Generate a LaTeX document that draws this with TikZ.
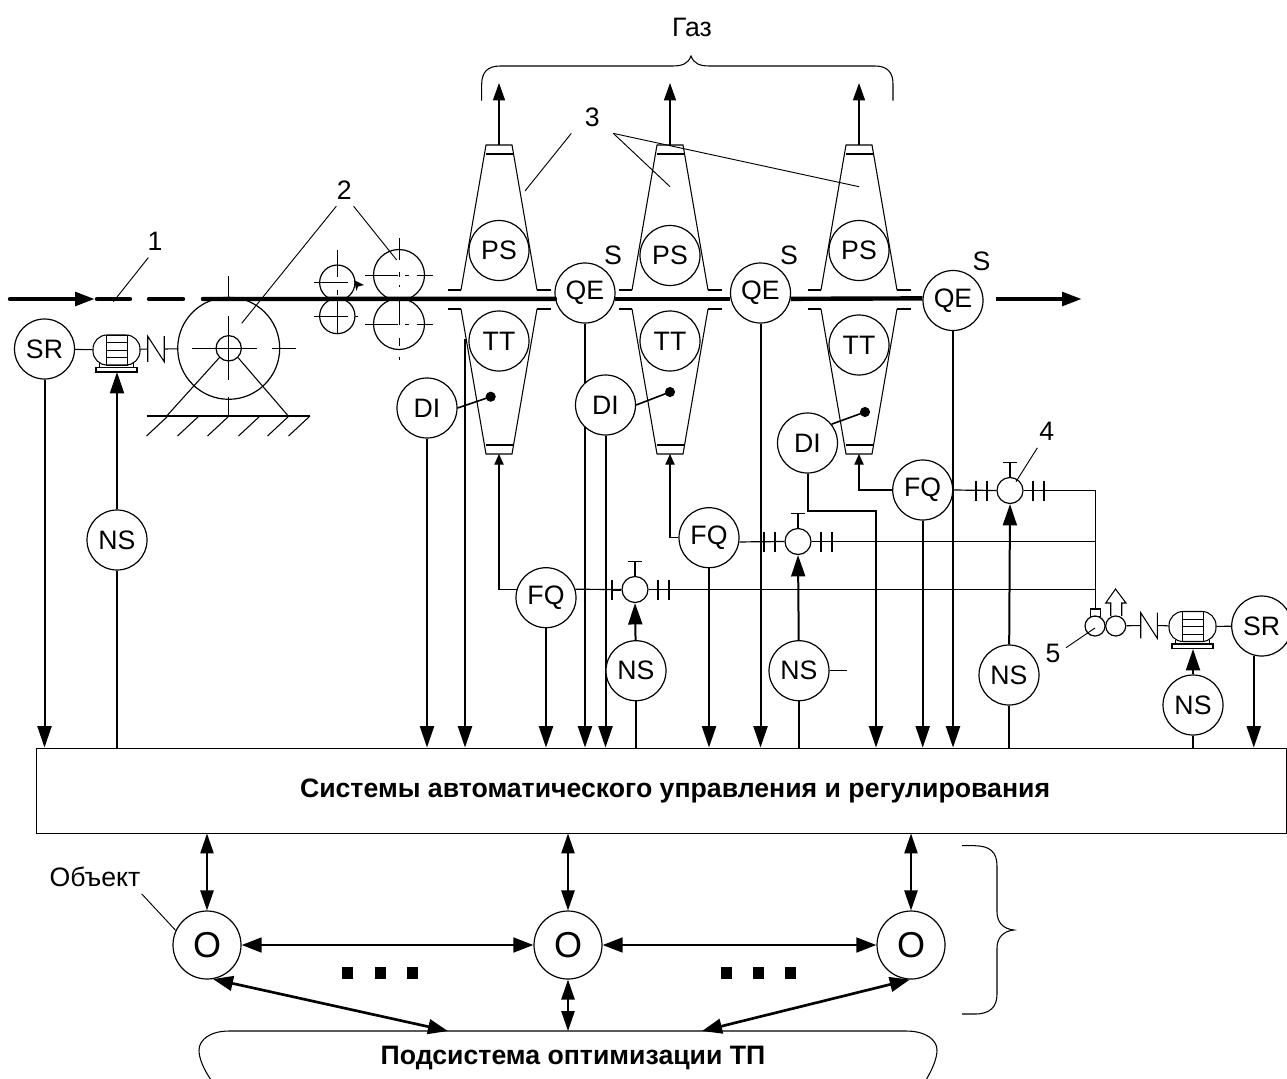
\documentclass[tikz,border=0pt]{standalone}
\usepackage{fontspec}
\setmainfont{Liberation Sans}
\usepackage{tikz}
\usetikzlibrary{positioning, calc, arrows.meta}

\tikzset{
    dev/.style={circle, draw, line width=0.9pt, minimum size=45pt, inner sep=0pt, font=\fontsize{20}{22}\selectfont},
    devw/.style={dev, fill=white},
    objc/.style={dev, fill=white, minimum size=51pt, font=\fontsize{27}{29}\selectfont},
    valvec/.style={circle, draw, fill=white, line width=0.9pt, minimum size=19.5pt, inner sep=0pt},
    lbl/.style={inner xsep=10pt, inner ysep=5pt, font=\fontsize{20}{22}\selectfont},
    thinl/.style={line width=0.8pt},
    cl/.style={line width=0.6pt},
    lead/.style={line width=0.7pt},
    sig/.style={line width=1.5pt, -{Triangle[length=16pt,width=10.5pt]}},
    sigplain/.style={line width=1.5pt},
    pipe/.style={line width=0.9pt},
    pipetip/.style={line width=0.9pt, -{Triangle[length=8pt,width=7pt]}},
    gas/.style={line width=1.1pt, -{Triangle[length=13pt,width=9pt]}},
    tape/.style={line width=3.3pt},
    bi/.style={line width=2pt, {Triangle[length=15pt,width=11pt]}-{Triangle[length=15pt,width=11pt]}},
    bithin/.style={line width=1.2pt, {Triangle[length=15pt,width=10pt]}-{Triangle[length=15pt,width=10pt]}},
    sq/.style={fill=black},
}

% motor with its base, centre of the body at #2,#3
\newcommand{\motorsym}[3]{
    \node[draw, line width=0.8pt, rounded corners=10.5pt, minimum width=35.25pt, minimum height=22.5pt, inner sep=0pt] (#1) at (#2,#3) {};
    \draw[cl] ($(#2,#3)+(-10.5,-15)$) rectangle ($(#2,#3)+(10.5,15)$);
    \foreach \dy in {-7.5,0,7.5} \draw[cl] ($(#2,#3)+(-10.5,\dy)$) -- ($(#2,#3)+(10.5,\dy)$);
    \draw[thinl] ($(#2,#3)+(-20.5,17.5)$) rectangle ($(#2,#3)+(20.5,22)$);
    \draw[thinl] ($(#2,#3)+(-17,13)$) -- ($(#2,#3)+(-17,17.5)$);
    \draw[thinl] ($(#2,#3)+(17,13)$) -- ($(#2,#3)+(17,17.5)$);
}
% coupling
\newcommand{\nsym}[3]{
    \node[minimum width=12pt, minimum height=18.75pt, inner sep=0pt] (#1) at (#2,#3) {};
    \draw[thinl] (#1.south west) -- (#1.north west) -- (#1.south east) -- (#1.north east);
}
% valve with stem and flange marks, #4 = left marks
\newcommand{\valvesym}[4]{
    \node[valvec] (#1) at (#2,#3) {};
    \draw[thinl] (#1.north) -- ++(0,-14) ++(-7,0) -- ++(14,0);
    \foreach \dx in {#4} \draw[thinl] ($(#1)+(\dx,-10)$) -- ($(#1)+(\dx,10)$);
    \foreach \dx in {23,34} \draw[thinl] ($(#1)+(\dx,-10)$) -- ($(#1)+(\dx,10)$);
}

\begin{document}
\begin{tikzpicture}[x=0.75pt, y=-0.75pt]
    \useasboundingbox (0,0) rectangle (1287,1078);

    % control system and optimisation block
    \node[draw, line width=0.7pt, minimum width=937.5pt, minimum height=63.75pt, inner sep=0pt] (bus) at (661.5,790.5) {};
    \node[font=\fontsize{20}{22}\selectfont\bfseries] (bustext) at (675,791) {Системы автоматического управления и регулирования};
    \node[font=\fontsize{20}{22}\selectfont\bfseries] (opt) at (573,1058) {Подсистема оптимизации ТП};
    \draw[thinl] (211,1080) .. controls (203,1068) and (199,1058) .. (199,1050) .. controls (199,1040) and (210,1031) .. (229,1031)
        -- (906,1031) .. controls (926,1031) and (937,1040) .. (937,1050) .. controls (937,1058) and (933,1068) .. (926,1080);
    \coordinate (optl) at (448,1031);
    \coordinate (optm) at (568,1031);
    \coordinate (optr) at (702,1031);

    % funnels of the chambers
    \foreach \fx/\fn in {499/1, 670/2, 859/3} {
        \draw[thinl] (\fx-38,290) -- (\fx-51.5,290);
        \draw[thinl] (\fx+38,290) -- (\fx+51.5,290);
        \draw[thinl] (\fx-38,290) -- (\fx-13,145) -- (\fx+13,145) -- (\fx+38,290);
        \draw[thinl] (\fx-13.5,154) -- (\fx+13.5,154);
        \draw[thinl] (\fx-38,309) -- (\fx-51.5,309);
        \draw[thinl] (\fx+38,309) -- (\fx+51.5,309);
        \draw[thinl] (\fx-38,309) -- (\fx-13,454) -- (\fx+13,454) -- (\fx+38,309);
        \draw[thinl] (\fx-13.5,445) -- (\fx+13.5,445);
        \coordinate (ft\fn) at (\fx,145);
        \coordinate (fb\fn) at (\fx,454);
        \coordinate (gas\fn) at (\fx,83);
        \draw[gas] (ft\fn) -- (gas\fn);
    }

    % sensors on the chambers
    \node[dev] (ps1) at (499,250.5) {PS};
    \node[dev] (ps2) at (670,255.5) {PS};
    \node[dev] (ps3) at (859,250.5) {PS};
    \node[dev] (tt1) at (499,341) {TT};
    \node[dev] (tt2) at (670,341) {TT};
    \node[dev] (tt3) at (859,345) {TT};
    \node[devw] (qe1) at (585,293) {QE};
    \node[devw] (qe2) at (760.5,293) {QE};
    \node[devw] (qe3) at (953,300.5) {QE};
    \node[lbl] (s1) at (613,255) {S};
    \node[lbl] (s2) at (789,255) {S};
    \node[lbl] (s3) at (981.5,261.5) {S};

    % tape
    \coordinate (tapea) at (10,299);
    \coordinate (tapeb) at (95,299);
    \coordinate (tapec) at (1063,299);
    \draw[tape, line cap=round, -{Triangle[length=15pt,width=10pt]}] (tapea) -- (tapeb);
    \draw[tape, line cap=round] (97,299) -- (130,299);
    \draw[tape, line cap=round] (149,299) -- (183,299);
    \draw[tape, line cap=round] (203,299) -- (qe1.191.5);
    \draw[tape] (qe1.-11.5) -- (qe2.191.5);
    \draw[tape] (qe2.-11.5) -- (qe3.176);
    \draw[tape, -{Triangle[length=15pt,width=10pt]}] (996,299) -- (1082,299);

    % drive on the left
    \node[dev] (sr1) at (44.5,349) {SR};
    \motorsym{mot1}{116.5}{350}
    \nsym{n1}{156}{349}
    \node[circle, draw, line width=0.9pt, minimum size=76.5pt, inner sep=0pt] (wheel) at (228.7,348.3) {};
    \node[circle, draw, line width=0.9pt, minimum size=19pt, inner sep=0pt] (hub) at (228.7,348.3) {};
    \draw[thinl] (sr1) -- (mot1);
    \draw[thinl] (mot1) -- (n1.west);
    \draw[thinl] (n1.east) -- (wheel);
    \draw[cl] (191.5,348.3) -- (256.5,348.3);
    \draw[cl] (271.5,348.3) -- (296,348.3);
    \draw[cl] (228.7,276) -- (228.7,297);
    \draw[cl] (228.7,315.5) -- (228.7,380);
    \draw[cl] (228.7,396.5) -- (228.7,416);
    \draw[thinl] (hub.-135) -- (166.7,416);
    \draw[thinl] (hub.-45) -- (288.3,416);
    \draw[thinl] (146.7,416) -- (310,416);
    \foreach \hx in {168,199,229,260,289,310}
        \draw[thinl] (\hx,416) -- (\hx-21.5,436);

    % pulling rollers
    \foreach \rx/\ry/\rn in {337.3/282.7/a, 337.3/316/b} {
        \node[circle, draw, line width=0.9pt, minimum size=26.5pt, inner sep=0pt] (roll\rn) at (\rx,\ry) {};
        \draw[cl] (\rx-23,\ry) -- (\rx+11,\ry);
        \draw[cl] (\rx+18,\ry) -- (\rx+21,\ry);
    }
    \draw[cl] (337.3,250) -- (337.3,277);
    \draw[cl] (337.3,290) -- (337.3,295);
    \draw[cl] (337.3,300) -- (337.3,333);
    \foreach \rx/\ry/\rn in {399/275/c, 399/324/d} {
        \node[circle, draw, line width=0.9pt, minimum size=38.25pt, inner sep=0pt] (roll\rn) at (\rx,\ry) {};
        \draw[cl] (\rx-34,\ry) -- (\rx-1,\ry);
        \draw[cl] (\rx+6,\ry) -- (\rx+10,\ry);
        \draw[cl] (\rx+17.5,\ry) -- (\rx+33.5,\ry);
    }
    \draw[cl] (399,238) -- (399,260);
    \draw[cl] (399,272) -- (399,277);
    \draw[cl] (399,285) -- (399,287);
    \draw[cl] (399,300) -- (399,325);
    \draw[cl] (399,338) -- (399,346);
    \draw[cl] (399,356.5) -- (399,360);
    \fill (354,280) -- (364,285) -- (358,286.5) -- (356.5,291) -- cycle;

    % lines running down to the control system, left ones first
    \draw[sig] (sr1) -- (sr1 |- bus.north);
    \coordinate (tap1) at (465,339);
    \draw[sig] (tap1) -- (tap1 |- bus.north);
    \draw[sig] (qe1) -- (qe1 |- bus.north);
    \draw[sig] (qe2) -- (qe2 |- bus.north);
    \draw[sig] (qe3) -- (qe3 |- bus.north);

    \node[devw] (di1) at (427,408) {DI};
    \node[devw] (di2) at (605.5,405) {DI};
    \node[devw] (di3) at (807.5,443) {DI};
    \foreach \dn/\dx/\dy/\da in {1/490.7/396.7/0, 2/670/392/0, 3/865/412/38} {
        \fill (\dx,\dy) circle (3.8pt) coordinate (dot\dn);
        \draw[line width=1.2pt] (di\dn.\da) -- (dot\dn);
    }
    \draw[sig] (di1) -- (di1 |- bus.north);
    \draw[sig] (di2) -- (di2 |- bus.north);
    \coordinate (dibend) at (876,511);
    \draw[sig] (di3) |- (dibend) -- (dibend |- bus.north);

    % gas supply
    \coordinate (trunk) at (1095.7,609);
    \node[devw] (fq1) at (546,597.7) {FQ};
    \node[devw] (fq2) at (709,537.7) {FQ};
    \node[devw] (fq3) at (922.7,490) {FQ};
    \valvesym{v1}{635}{589.5}{-23}
    \valvesym{v2}{798}{541.5}{-34,-23}
    \valvesym{v3}{1010}{490.5}{-34,-23}
    \draw[pipe] (fq1.16) -- (v1.west);
    \draw[pipe] (v1.east) -- (v1.east -| trunk);
    \draw[pipe] (fq2.-8) -- (v2.west);
    \draw[pipe] (v2.east) -- (v2.east -| trunk);
    \draw[pipe] (fq3.east) -- (v3.west);
    \draw[pipe] (v3.east) -| (trunk);
    \draw[line width=1.5pt] ($(v1)+(-23,0)$) -- (v1.west);
    \draw[pipetip] (fq1.164) -| (fb1);
    \draw[pipetip] (fq2.west) -| (fb2);
    \draw[pipetip] (fq3.west) -| (fb3);
    \draw[sig] (fq1) -- (fq1 |- bus.north);
    \draw[sig] (fq2) -- (fq2 |- bus.north);
    \draw[sig] (fq3) -- (fq3 |- bus.north);

    % blower on the right
    \node[circle, draw, line width=0.9pt, minimum size=15pt, inner sep=0pt] (bl1) at (1095,626) {};
    \node[circle, draw, line width=0.9pt, minimum size=15pt, inner sep=0pt] (bl2) at (1115.7,626) {};
    \draw[thinl] (1090.5,616.3) rectangle (1100.7,609);
    \draw[thinl] (1110.7,616) -- (1110.7,603) -- (1105.7,603) -- (1115.5,589) -- (1126,603) -- (1121.7,603) -- (1121.7,616);
    \nsym{n2}{1149}{625.5}
    \motorsym{mot2}{1192.5}{626.5}
    \node[dev] (sr2) at (1261.7,626) {SR};
    \draw[thinl] (bl2) -- (n2.west);
    \draw[thinl] (n2.east) -- (mot2);
    \draw[thinl] (mot2) -- (sr2);
    \draw[sig] (sr2.-105) -- (sr2.-105 |- bus.north);

    % actuators
    \node[devw] (ns0) at (117,540) {NS};
    \node[devw] (ns1) at (636,670.7) {NS};
    \node[devw] (ns2) at (799,670.7) {NS};
    \node[devw] (ns3) at (1009,675) {NS};
    \node[devw] (ns4) at (1193,705) {NS};
    \coordinate (nstub) at (846.5,670.7);
    \draw[thinl] (ns2) -- (nstub);
    \coordinate (mot1b) at (117,372);
    \coordinate (mot2b) at (1193,649);
    \draw[sig] (ns0) -- (mot1b);
    \draw[sig] (ns1) -- (v1.south);
    \draw[sig] (ns2) -- (v2.south);
    \draw[sig] (ns3) -- (v3.south);
    \draw[sig] (ns4) -- (mot2b);
    \draw[sigplain] (bus.north -| ns0) -- (ns0);
    \draw[sigplain] (bus.north -| ns1) -- (ns1);
    \draw[sigplain] (bus.north -| ns2) -- (ns2);
    \draw[sigplain] (bus.north -| ns3) -- (ns3);
    \draw[sigplain] (bus.north -| ns4) -- (ns4);

    % objects
    \node[objc] (o1) at (207,945) {O};
    \node[objc] (o2) at (568,945) {O};
    \node[objc] (o3) at (911,945) {O};
    \draw[bithin] (o1 |- bus.south) -- (o1);
    \draw[bithin] (o2 |- bus.south) -- (o2);
    \draw[bithin] (o3 |- bus.south) -- (o3);
    \draw[bi] (o1) -- (o2);
    \draw[bi] (o2) -- (o3);
    \draw[bi] (o1.-80) -- (optl);
    \draw[bithin] (o2) -- (optm);
    \draw[bi] (o3.-92) -- (optr);
    \foreach \qx in {342,375,407,721,753,785}
        \fill[sq] (\qx,967) rectangle (\qx+11,979);

    % braces
    \draw[thinl] (481.7,100.7) -- (481.7,84) .. controls (481.7,72) and (488,66) .. (500,66) -- (672,66)
        .. controls (682,66) and (688,64) .. (691,56) .. controls (694,64) and (700,66) .. (710,66) -- (875,66)
        .. controls (887,66) and (893,72) .. (893,84) -- (893,100.7);
    \draw[thinl] (962,845.7) -- (975,845.7) .. controls (990,846) and (997,852) .. (997,866) -- (997,912)
        .. controls (997,922) and (1003,929) .. (1014,930) .. controls (1003,931) and (997,938) .. (997,948) -- (997,994)
        .. controls (997,1007) and (990,1014) .. (975,1014) -- (962,1014);

    % labels and leaders
    \node[lbl] (gaz) at (692,27) {Газ};
    \node[lbl] (lbl1) at (155,241.5) {1};
    \node[lbl] (lbl2) at (344.3,190) {2};
    \node[lbl] (lbl3) at (592.3,117) {3};
    \node[lbl] (lbl4) at (1046.7,431.7) {4};
    \node[lbl] (lbl5) at (1053,653) {5};
    \node[lbl, inner xsep=0pt] (lblobj) at (95,877) {Объект};
    \coordinate (t1) at (113.3,301.7);
    \coordinate (t2a) at (241.7,323.3);
    \coordinate (t2b) at (396.7,260);
    \coordinate (t3a) at (525,191);
    \coordinate (t3b) at (670,186.7);
    \coordinate (t3c) at (859,186.7);
    \coordinate (t4) at (1016,481.7);
    \coordinate (t5) at (1095,628);
    \draw[lead] ([xshift=-5pt]lbl1.south) -- (t1);
    \draw[lead] ([xshift=-6pt]lbl2.south) -- (t2a);
    \draw[lead] ([xshift=7pt]lbl2.south) -- (t2b);
    \draw[lead] (lbl3.south west) -- (t3a);
    \draw[lead] (lbl3.south east) -- (t3b);
    \draw[lead] (lbl3.south east) -- (t3c);
    \draw[lead] ([xshift=-7pt]lbl4.south) -- (t4);
    \draw[lead] ([xshift=-6pt,yshift=4pt]lbl5.east) -- (t5);
    \draw[lead] ([xshift=35pt]lblobj.south) -- (o1.155);
\end{tikzpicture}
\end{document}
